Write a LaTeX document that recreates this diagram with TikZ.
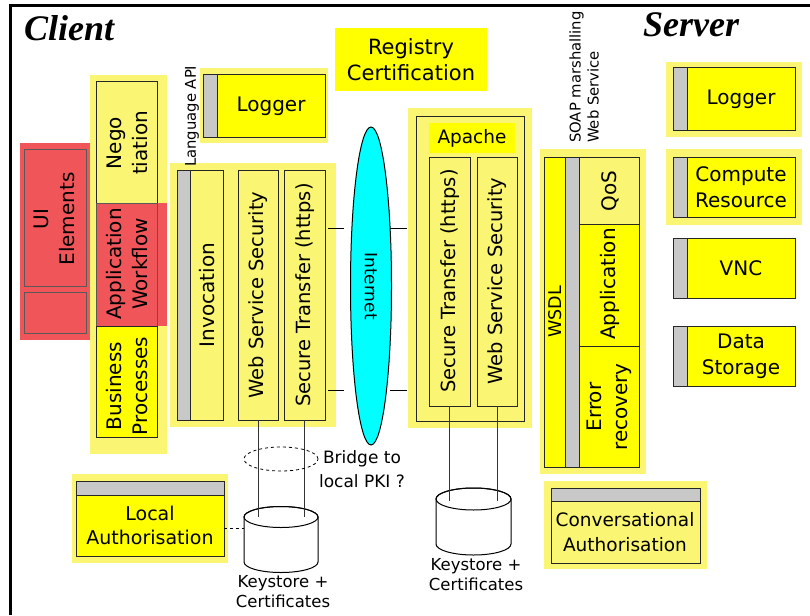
\documentclass[tikz,border=0pt]{standalone}
\usepackage{fontspec}
\setmainfont{DejaVu Sans}
\newfontfamily\headfont{Liberation Serif}
\usetikzlibrary{fit,shapes.geometric}

\definecolor{haloY}{RGB}{250,246,115}
\definecolor{solidY}{RGB}{255,255,0}
\definecolor{redtex}{RGB}{240,85,90}
\definecolor{stripG}{RGB}{200,200,200}
\definecolor{netcyan}{RGB}{0,255,255}

\tikzset{
  corners/.style={fit={#1}, inner sep=0pt, outer sep=0pt},
  halo/.style={fill=haloY, draw=none},
  redhalo/.style={fill=redtex, draw=none},
  tbox/.style={draw=black!85, line width=1pt, fill=haloY},
  sbox/.style={draw=black!85, line width=1pt, fill=solidY},
  rbox/.style={draw=black!65, line width=0.8pt, fill=redtex},
  gstrip/.style={draw=black!85, line width=1pt, fill=stripG},
  lbl/.style={inner sep=0pt, align=center, font=\fontsize{20}{26}\selectfont},
  vlbl/.style={lbl, rotate=90},
  smalllbl/.style={inner sep=0pt, font=\fontsize{14.8}{18}\selectfont},
  notelbl/.style={inner sep=0pt, align=center, font=\fontsize{16.5}{20}\selectfont},
  headline/.style={inner sep=0pt, font=\headfont\bfseries\itshape\fontsize{36}{40}\selectfont},
  wire/.style={draw=black!80, line width=0.9pt},
  stub/.style={draw=black, line width=0.9pt},
  cyl/.style={draw=black, line width=1pt, fill=white},
}

\begin{document}
\begin{tikzpicture}[x=1pt, y=-1pt]
\useasboundingbox (0,0) rectangle (810,615);

% outer frame
\draw[line width=3pt] (10,615) -- (10,6) -- (810,6);

\node[headline, anchor=base west] (client) at (24,41) {Client};
\node[headline, anchor=base west] (server) at (643,37) {Server};

% ---------- client application column ----------
\node[halo, corners={(90,75) (167,454)}] (haloL) {};
\node[redhalo, corners={(20,143) (90,340)}] (haloUI) {};
\node[redhalo, corners={(96,203) (167,326)}] (haloWF) {};
\node[tbox, corners={(96,82) (157,203)}] (nego) {};
\node[rbox, corners={(96,203) (157,326)}] (appwf) {};
\node[sbox, corners={(96,326) (157,437)}] (busproc) {};
\node[rbox, corners={(24,149) (86,286)}] (uiel) {};
\node[rbox, corners={(24,292) (86,333)}] (uisub) {};
\node[vlbl] (negoT) at (127,143) {Nego\\tiation};
\node[vlbl] (appwfT) at (127,264) {Application\\Workflow};
\node[vlbl] (busprocT) at (127,386) {Business\\Processes};
\node[vlbl] (uielT) at (54,219) {UI\\Elements};

% ---------- client middleware stack ----------
\node[halo, corners={(170,163) (336,427)}] (haloC) {};
\node[gstrip, corners={(177,170) (190,420)}] (invstrip) {};
\node[tbox, corners={(190,170) (223,420)}] (invoc) {};
\node[tbox, corners={(238,170) (278,420)}] (wssC) {};
\node[tbox, corners={(284,170) (325,420)}] (stC) {};
\node[vlbl] (invocT) at (207,295) {Invocation};
\node[vlbl, font=\fontsize{19.5}{24}\selectfont] (wssCT) at (258,295) {Web Service Security};
\node[vlbl, font=\fontsize{19.5}{24}\selectfont] (stCT) at (305,295) {Secure Transfer (https)};
\node[smalllbl, rotate=90, anchor=west] (langapi) at (192,167) {Language API};

% client logger
\node[halo, corners={(200,68) (328,143)}] (haloLogC) {};
\node[gstrip, corners={(203,75) (217,137)}] (logCstrip) {};
\node[sbox, corners={(217,75) (325,137)}] (logC) {};
\node[lbl] (logCT) at (logC.center) {Logger};

% registry
\node[fill=solidY, corners={(335,28) (487,91)}] (registry) {};
\node[lbl, font=\fontsize{21}{26}\selectfont] (registryT) at (registry.center) {Registry\\Certification};

% ---------- internet ----------
\node[ellipse, draw=black, line width=1pt, fill=netcyan, rotate=-90,
      minimum width=318pt, minimum height=41pt, inner sep=0pt,
      font=\fontsize{17}{20}\selectfont] (internet) at (371,286) {Internet};
\coordinate (tickA1) at (328,228); \coordinate (tickA2) at (344,228);
\coordinate (tickB1) at (390,228); \coordinate (tickB2) at (407,228);
\coordinate (tickC1) at (328,390); \coordinate (tickC2) at (344,390);
\coordinate (tickD1) at (390,390); \coordinate (tickD2) at (407,390);
\draw[stub] (tickA1) -- (tickA2);
\draw[stub] (tickB1) -- (tickB2);
\draw[stub] (tickC1) -- (tickC2);
\draw[stub] (tickD1) -- (tickD2);

% ---------- apache ----------
\node[halo, corners={(408,108) (532,428)}] (haloAp) {};
\node[tbox, corners={(416,116) (524,421)}] (apache) {};
\node[fill=solidY, corners={(429,123) (515,153)}] (apacheLab) {};
\node[lbl, font=\fontsize{18.5}{22}\selectfont] (apacheT) at (apacheLab.center) {Apache};
\node[tbox, corners={(429,157) (470,406)}] (stS) {};
\node[tbox, corners={(477,157) (517,406)}] (wssS) {};
\node[vlbl, font=\fontsize{19.5}{24}\selectfont] (stST) at (450,281) {Secure Transfer (https)};
\node[vlbl, font=\fontsize{19.5}{24}\selectfont] (wssST) at (497,281) {Web Service Security};

% ---------- server stack ----------
\node[halo, corners={(540,149) (646,474)}] (haloSrv) {};
\node[sbox, corners={(544,157) (565,467)}] (wsdl) {};
\node[gstrip, corners={(565,157) (579,467)}] (soapstrip) {};
\node[tbox, corners={(579,157) (639,224)}] (qos) {};
\node[sbox, corners={(579,224) (639,346)}] (appS) {};
\node[sbox, corners={(579,346) (639,467)}] (errrec) {};
\node[vlbl, font=\fontsize{17.5}{22}\selectfont] (wsdlT) at (555,312) {WSDL};
\node[vlbl] (qosT) at (610,191) {QoS};
\node[vlbl] (appST) at (610,284) {Application};
\node[vlbl] (errrecT) at (609,407) {Error\\recovery};
\node[smalllbl, rotate=90, anchor=west, align=left] (soapT) at (584,143) {SOAP marshalling\\Web Service};

% ---------- server resources ----------
\node[halo, corners={(666,62) (802,137)}] (haloLogS) {};
\node[gstrip, corners={(673,68) (687,130)}] (logSstrip) {};
\node[sbox, corners={(687,68) (795,130)}] (logS) {};
\node[lbl] (logST) at (741,99) {Logger};

\node[halo, corners={(666,149) (802,225)}] (haloComp) {};
\node[gstrip, corners={(673,157) (687,217)}] (compstrip) {};
\node[sbox, corners={(687,157) (795,217)}] (comp) {};
\node[lbl] (compT) at (741,187) {Compute\\Resource};

\node[gstrip, corners={(673,238) (687,298)}] (vncstrip) {};
\node[sbox, corners={(687,238) (795,298)}] (vnc) {};
\node[lbl] (vncT) at (741,268) {VNC};

\node[gstrip, corners={(673,326) (687,386)}] (datastrip) {};
\node[sbox, corners={(687,326) (795,386)}] (data) {};
\node[lbl] (dataT) at (741,356) {Data\\Storage};

% ---------- authorisation ----------
\node[halo, corners={(544,481) (707,569)}] (haloConv) {};
\node[gstrip, corners={(551,488) (700,501)}] (convstrip) {};
\node[tbox, corners={(551,501) (700,563)}] (conv) {};
\node[lbl, font=\fontsize{18.5}{25}\selectfont] (convT) at (625,532) {Conversational\\Authorisation};

\node[halo, corners={(72,474) (228,563)}] (haloLoc) {};
\node[gstrip, corners={(76,481) (224,495)}] (locstrip) {};
\node[sbox, corners={(76,495) (224,556)}] (localA) {};
\node[lbl, font=\fontsize{19}{24}\selectfont] (localAT) at (150,525) {Local\\Authorisation};

% ---------- keystores ----------
\path[cyl] (244,517) -- (244,562)
  arc[start angle=180, end angle=360, x radius=37pt, y radius=10.5pt]
  -- (318,517)
  arc[start angle=0, end angle=180, x radius=37pt, y radius=10.5pt] -- cycle;
\draw[line width=1pt] (281,517) ellipse [x radius=37pt, y radius=10.5pt];
\coordinate (ks1top) at (281,517);
\coordinate (ks1left) at (244,528);

\path[cyl] (436,499) -- (436,544)
  arc[start angle=180, end angle=360, x radius=37.5pt, y radius=11pt]
  -- (511,499)
  arc[start angle=0, end angle=180, x radius=37.5pt, y radius=11pt] -- cycle;
\draw[line width=1pt] (473.5,499) ellipse [x radius=37.5pt, y radius=11pt];
\coordinate (ks2top) at (473.5,501);

\draw[wire] (wssC.south) -- (wssC.south |- ks1top);
\draw[wire] (stC.south) -- (stC.south |- ks1top);
\draw[wire] (stS.south) -- (stS.south |- ks2top);
\draw[wire] (wssS.south) -- (wssS.south |- ks2top);
\draw[dashed, line width=0.8pt] (localA.east |- ks1left) -- (ks1left);

\node[ellipse, draw=black, dashed, line width=0.8pt, minimum width=74pt,
      minimum height=24pt, inner sep=0pt] (bridge) at (281,459) {};
\node[notelbl, font=\fontsize{17}{24}\selectfont] (bridgeT) at (362,469) {Bridge to\\local PKI ?};

\node[notelbl] (ks1T) at (283,592) {Keystore +\\Certificates};
\node[notelbl] (ks2T) at (476,575) {Keystore +\\Certificates};
\end{tikzpicture}
\end{document}
